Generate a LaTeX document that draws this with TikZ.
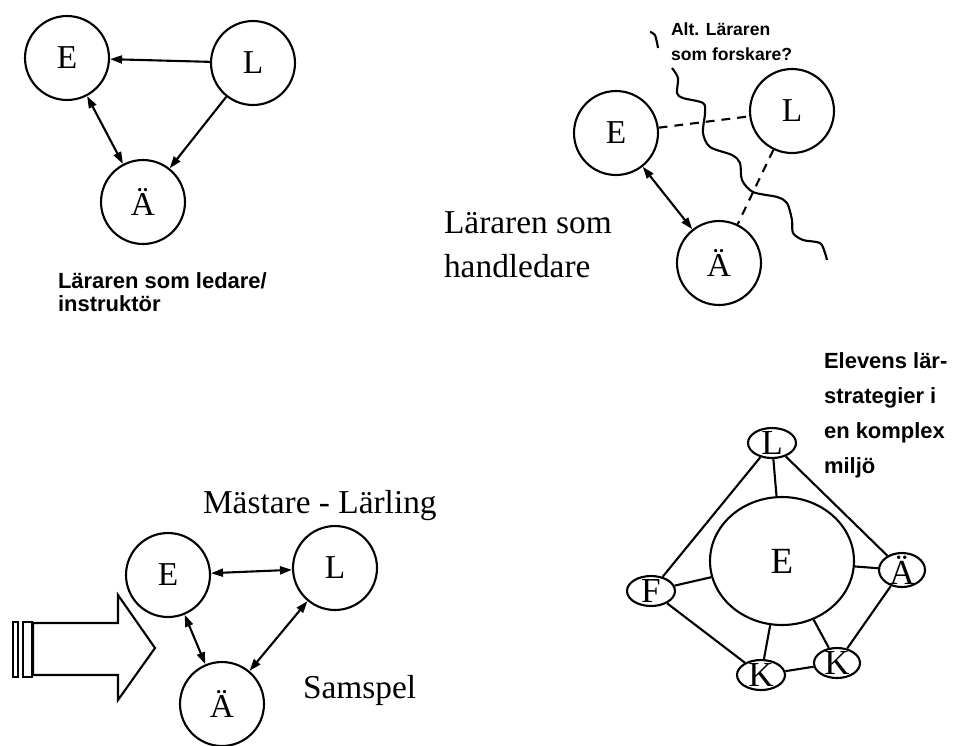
\documentclass[tikz,border=0pt]{standalone}
\usepackage{fontspec}
\setmainfont{Liberation Serif}
\setsansfont{Liberation Sans}
\usepackage{tikz}
\usetikzlibrary{arrows.meta,shapes.geometric}
\tikzset{>/.tip={Triangle[length=2.4mm,width=1.6mm]},
  part/.style={circle,draw,minimum size=1.68cm,inner sep=0pt,font=\fontsize{19}{19}\selectfont},
  small/.style={ellipse,draw,minimum width=0.96cm,minimum height=0.6cm,inner sep=-4pt,font=\fontsize{20}{20}\selectfont},
  note/.style={font=\sffamily\bfseries\fontsize{12.5}{13}\selectfont,align=left,inner sep=0pt},
  title/.style={font=\fontsize{19}{25}\selectfont,align=left,inner sep=0pt},
  dashline/.style={dash pattern=on 5pt off 4pt}}

\begin{document}
\begin{tikzpicture}[x=0.02cm,y=-0.02cm,line width=1.2pt]
\useasboundingbox (0,0) rectangle (957,745);
\node[part] (e1) at (67,58)   {E};
\node[part] (l1) at (253,63)  {L};
\node[part] (a1) at (143,202) {Ä};
\node[note,anchor=north west] (t1) at (57,272) {Läraren som ledare/\\instruktör};
\draw[->] (l1) to (e1);
\draw[->] (l1) to (a1);
\draw[<->] (e1) to (a1);

\node[part] (e2) at (616,133) {E};
\node[part] (l2) at (792,111) {L};
\node[part] (a2) at (719,263) {Ä};
\node[title,anchor=north west] (t2) at (443,211) {Läraren som\\handledare};
\node[note,font=\sffamily\bfseries\fontsize{10}{14}\selectfont,anchor=north west] (t3) at (670,22) {Alt. Läraren\\som forskare?};
\draw[dashline] (e2) to (l2);
\draw[dashline] (l2) to (a2);
\draw[<->] (e2) to (a2);
\draw plot[smooth] coordinates {(672,68) (678,78) (677,93) (683,98) (703,103) (705,113) (703,133) (710,147) (732,155) (740,163) (742,180) (753,192) (777,197) (787,203) (792,220) (793,233) (803,240) (820,243) (825,253) (827,260)};
\draw plot[smooth] coordinates {(650,32) (655,35) (658,48)};

\node[part] (e3) at (168,575) {E};
\node[part] (l3) at (335,568) {L};
\node[part] (a3) at (222,704) {Ä};
\node[title,anchor=base west] (t4) at (202,513) {Mästare - Lärling};
\node[title,anchor=base west] (t5) at (302,698) {Samspel};
\foreach \i/\j in {e3/l3,e3/a3,l3/a3}
{
  \draw[<->] (\i) to (\j);
}
\draw (13,622) rectangle (18,677);
\draw (23,622) rectangle (32,677);
\draw (33,623) -- (118,623) -- (118,595) -- (155,648) -- (118,700) -- (118,675) -- (33,675) -- cycle;

\node[ellipse,draw,minimum width=2.88cm,minimum height=2.56cm,inner sep=0pt,font=\fontsize{21}{21}\selectfont] (e4) at (782,561) {E};
\node[small] (l4) at (772,443) {L};
\node[small,minimum width=0.92cm,minimum height=0.68cm] (a4) at (902,570) {Ä};
\node[small] (f4) at (651,591) {F};
\node[small] (k1) at (761,675) {K};
\node[small,minimum width=0.92cm] (k2) at (837,663) {K};
\node[note,font=\sffamily\bfseries\fontsize{12.5}{19.8}\selectfont,anchor=north west] (t6) at (823,352) {Elevens lär-\\strategier i\\en komplex\\miljö};
\foreach \i/\j in {l4/e4,l4/f4,l4/a4,e4/a4,e4/f4,f4/k1,e4/k1,e4/k2,a4/k2,k1/k2}
{
  \draw (\i) to (\j);
}
\end{tikzpicture}
\end{document}
